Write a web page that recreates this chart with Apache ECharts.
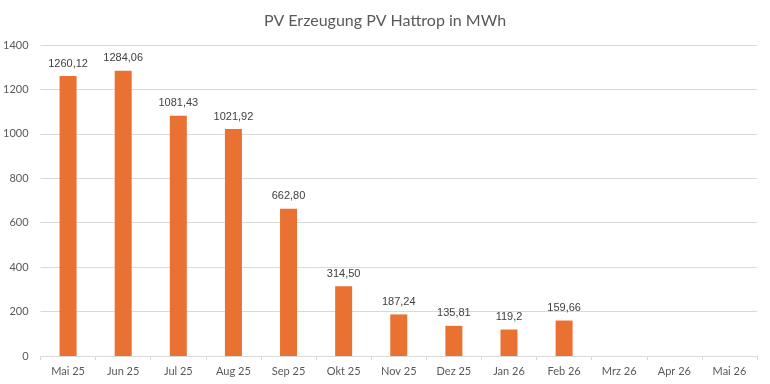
<!DOCTYPE html>
<html><head><meta charset="utf-8">
<script src="https://cdn.jsdelivr.net/npm/echarts@6/dist/echarts.min.js"></script>
<style>html,body{margin:0;padding:0;background:#fff}#c{width:770px;height:384px}</style>
</head><body><div id="c"></div>
<script>
const categories = ['Mai 25','Jun 25','Jul 25','Aug 25','Sep 25','Okt 25','Nov 25','Dez 25','Jan 26','Feb 26','Mrz 26','Apr 26','Mai 26'];
const values = [1260.12, 1284.06, 1081.43, 1021.92, 662.80, 314.50, 187.24, 135.81, 119.2, 159.66, null, null, null];
const valueLabels = ['1260,12','1284,06','1081,43','1021,92','662,80','314,50','187,24','135,81','119,2','159,66','','',''];
const yTicks = [0, 200, 400, 600, 800, 1000, 1200, 1400];

const chart = echarts.init(document.getElementById('c'));
chart.setOption({
  animation: false,
  title: {
    text: 'PV Erzeugung PV Hattrop in MWh',
    left: 'center', top: 8,
    textStyle: { fontFamily: 'Lato', fontWeight: 'normal', fontSize: 16, color: '#595959' }
  },
  grid: { left: 40, right: 13, top: 45, bottom: 28 },
  xAxis: {
    type: 'category', data: categories,
    axisLine: { lineStyle: { color: '#d9d9d9' } },
    axisTick: { show: true, length: 4, lineStyle: { color: '#d9d9d9' } },
    axisLabel: { color: '#595959', fontFamily: 'Lato', fontSize: 11, margin: 10 }
  },
  yAxis: {
    type: 'value', min: yTicks[0], max: yTicks[yTicks.length - 1], interval: 200,
    axisLine: { show: false }, axisTick: { show: false },
    splitLine: { lineStyle: { color: '#d9d9d9' } },
    axisLabel: { color: '#595959', fontFamily: 'Lato', fontSize: 11, margin: 12, formatter: v => String(v) }
  },
  series: [{
    type: 'bar', data: values, barWidth: 17,
    itemStyle: { color: '#E97132' },
    label: {
      show: true, position: 'top', distance: 7,
      color: '#404040', fontFamily: 'Liberation Sans', fontSize: 11,
      formatter: p => valueLabels[p.dataIndex]
    }
  }]
});
</script></body></html>
